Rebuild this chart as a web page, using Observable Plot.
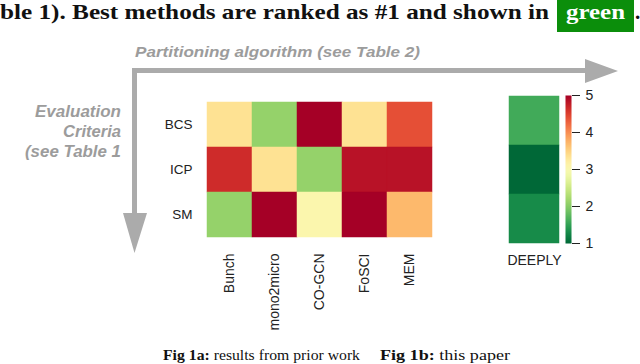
<!DOCTYPE html>
<html>
<head>
<meta charset="utf-8">
<script src="https://cdn.jsdelivr.net/npm/d3@7"></script>
<script src="https://cdn.jsdelivr.net/npm/@observablehq/plot@0.6"></script>
<style>
  html, body { margin: 0; padding: 0; background: #fff; }
  #page { position: relative; width: 640px; height: 364px; overflow: hidden; background: #fff; }
  #page > svg, #page > .layer { position: absolute; left: 0; top: 0; }
</style>
</head>
<body>
<div id="page">
<svg id="deco" width="640" height="364" xmlns="http://www.w3.org/2000/svg">
  <text x="0" y="19" font-family="'Liberation Serif', 'DejaVu Serif', serif" font-weight="bold" font-size="21" fill="#111" textLength="549" lengthAdjust="spacingAndGlyphs">ble 1). Best methods are ranked as #1 and shown in</text>
  <rect x="557" y="0" width="77" height="32" fill="#0b8e0b"></rect>
  <text x="566" y="19" font-family="'Liberation Serif', 'DejaVu Serif', serif" font-weight="bold" font-size="21" fill="#fff" textLength="59" lengthAdjust="spacingAndGlyphs">green</text>
  <text x="635" y="19" font-family="'Liberation Serif', 'DejaVu Serif', serif" font-weight="bold" font-size="21" fill="#111">.</text>

  <text x="135" y="57" font-family="'Liberation Sans', Arial, sans-serif" font-style="italic" font-weight="bold" font-size="15" fill="#9c9c9c" textLength="285" lengthAdjust="spacingAndGlyphs">Partitioning algorithm (see Table 2)</text>
  <g font-family="'Liberation Sans', Arial, sans-serif" font-style="italic" font-weight="bold" font-size="16" fill="#9c9c9c">
    <text x="35" y="117" textLength="86" lengthAdjust="spacingAndGlyphs">Evaluation</text>
    <text x="63" y="137" textLength="58" lengthAdjust="spacingAndGlyphs">Criteria</text>
    <text x="25" y="157" textLength="96" lengthAdjust="spacingAndGlyphs">(see Table 1</text>
  </g>

  <g fill="#ababab">
    <rect x="132" y="68" width="454" height="5"></rect>
    <polygon points="585,59 618,71 585,83"></polygon>
    <rect x="132" y="68" width="5" height="146"></rect>
    <polygon points="123,213 147,213 134.5,253"></polygon>
  </g>

  <g font-family="'Liberation Serif', 'DejaVu Serif', serif" font-size="15" fill="#111">
    <text x="163" y="360" textLength="197" lengthAdjust="spacingAndGlyphs"><tspan font-weight="bold">Fig 1a:</tspan> results from prior work</text>
    <text x="380" y="360" textLength="130" lengthAdjust="spacingAndGlyphs"><tspan font-weight="bold">Fig 1b:</tspan> this paper</text>
  </g>
</svg>
</div>
<script>
// ---- data ----
const methods = ["Bunch", "mono2micro", "CO-GCN", "FoSCI", "MEM"];
const criteria = ["BCS", "ICP", "SM"];
const bcsValues = [3.35, 2.1, 5.0, 3.35, 4.4];
const icpValues = [4.65, 3.35, 2.1, 4.85, 4.85];
const smValues  = [2.1, 5.0, 3.05, 5.0, 3.7];
const deeplyLabel = ["DEEPLY"];
const deeplyValues = [1.6, 1.0, 1.3];
const colorTicks = [1, 2, 3, 4, 5];
const colorDomain = [1, 5];

const rows = [bcsValues, icpValues, smValues];
const cells = criteria.flatMap((c, i) => methods.map((m, j) => ({criterion: c, method: m, value: rows[i][j]})));
const deeplyCells = criteria.map((c, i) => ({criterion: c, method: deeplyLabel[0], value: deeplyValues[i]}));

const colorOpts = {type: "linear", scheme: "RdYlGn", reverse: true, domain: colorDomain};
const baseStyle = {background: "transparent", fontFamily: "'Liberation Sans', Arial, sans-serif", fontSize: "13.5px", color: "#222", overflow: "visible"};
const page = document.getElementById("page");

// Fig 1a heatmap
const p1 = Plot.plot({
  width: 640, height: 364,
  marginLeft: 205, marginRight: 207, marginTop: 101, marginBottom: 127,
  style: baseStyle,
  x: {domain: methods, padding: 0, axis: null},
  y: {domain: criteria, padding: 0, axis: null},
  color: colorOpts,
  marks: [
    Plot.cell(cells, {x: "method", y: "criterion", fill: "value", inset: 0, stroke: "value", strokeWidth: 0.5}),
    Plot.axisX({tickSize: 0, tickPadding: 16, tickRotate: -90, label: null, fontSize: 14}),
    Plot.axisY({tickSize: 0, tickPadding: 13, label: null, fontSize: 13.5})
  ]
});
page.appendChild(p1);

// Fig 1b heatmap
const p2 = Plot.plot({
  width: 640, height: 364,
  marginLeft: 509, marginRight: 81, marginTop: 95, marginBottom: 121,
  style: baseStyle,
  x: {domain: deeplyLabel, padding: 0, axis: null},
  y: {domain: criteria, padding: 0, axis: null},
  color: colorOpts,
  marks: [
    Plot.cell(deeplyCells, {x: "method", y: "criterion", fill: "value", inset: 0, stroke: "value", strokeWidth: 0.5}),
    Plot.axisX({tickSize: 0, tickPadding: 12, label: null, fontSize: 14})
  ]
});
page.appendChild(p2);

// colour bar
const p3 = Plot.plot({
  width: 640, height: 364,
  marginLeft: 565, marginRight: 69, marginTop: 95, marginBottom: 121,
  style: baseStyle,
  x: {domain: [0, 1], axis: null},
  y: {domain: colorDomain, axis: null},
  color: colorOpts,
  marks: [
    Plot.raster({x1: 0, x2: 1, y1: colorDomain[0], y2: colorDomain[1], width: 2, height: 148, fill: (x, y) => y, imageRendering: "auto"}),
    Plot.axisY({anchor: "right", ticks: colorTicks, tickSize: 8, tickPadding: 6, label: null, fontSize: 14, tickFormat: d => String(d), stroke: "#222"})
  ]
});
page.appendChild(p3);
</script>
</body>
</html>
